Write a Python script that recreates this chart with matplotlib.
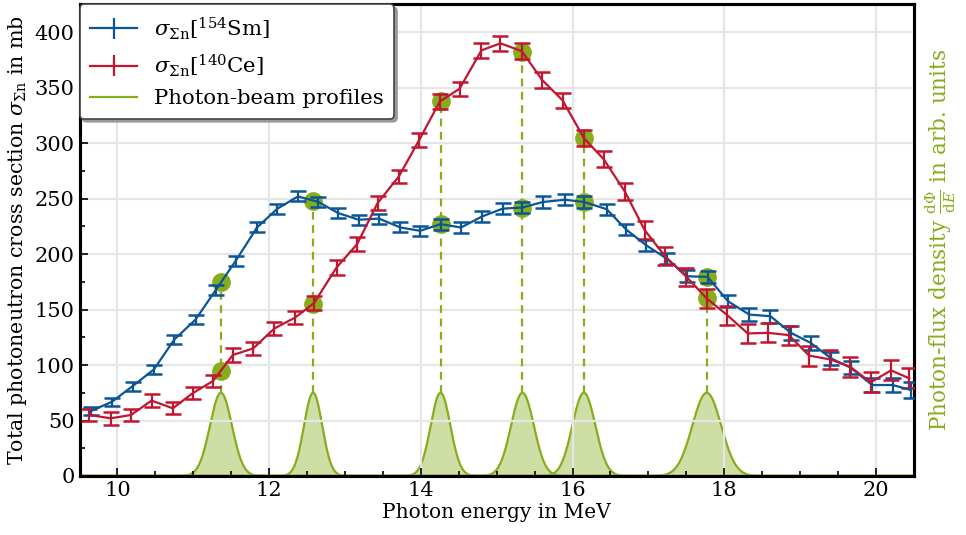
import numpy as np
import matplotlib
matplotlib.use("Agg")
import matplotlib.pyplot as plt
from matplotlib.lines import Line2D

plt.rcParams["font.family"] = ["DejaVu Serif"]
plt.rcParams["mathtext.fontset"] = "dejavuserif"

# --- data -------------------------------------------------------------
energy_sm = [9.65, 9.93, 10.20, 10.48, 10.75, 11.03, 11.30, 11.56, 11.84, 12.11,
             12.38, 12.65, 12.91, 13.18, 13.45, 13.73, 13.99, 14.26, 14.53, 14.81,
             15.08, 15.34, 15.61, 15.90, 16.15, 16.45, 16.71, 16.97, 17.24, 17.51,
             17.78, 18.05, 18.33, 18.61, 18.88, 19.14, 19.41, 19.67, 19.95, 20.22,
             20.46]
xs_sm = [58.5, 67, 81, 96, 123, 141, 168, 194, 224, 241,
         252, 247, 237, 231, 232, 224, 221, 227, 224, 234,
         241, 242, 247, 249, 247, 240.5, 222, 208, 196, 180,
         179.5, 157.5, 145.5, 144, 129, 120, 106, 97.5, 82, 82,
         77.5]
err_sm = [3.5, 3.5, 4, 4, 4, 4, 4.5, 4.5, 4.5, 4.5,
          4.5, 4.5, 4.5, 4.5, 4.5, 4.5, 4.5, 5, 5, 5,
          5, 5, 5, 5, 5, 5, 5, 5, 5, 5.5,
          5.5, 5.5, 5.5, 6, 6, 6, 6, 6, 6.5, 6.5,
          7]

energy_ce = [9.63, 9.91, 10.18, 10.45, 10.73, 10.99, 11.26, 11.52, 11.79, 12.07,
             12.34, 12.59, 12.89, 13.16, 13.43, 13.71, 13.98, 14.25, 14.51, 14.80,
             15.05, 15.33, 15.60, 15.87, 16.15, 16.41, 16.69, 16.95, 17.22, 17.50,
             17.77, 18.04, 18.31, 18.58, 18.85, 19.12, 19.40, 19.66, 19.93, 20.20,
             20.44]
xs_ce = [55, 52, 55, 68, 61, 74.5, 85.6, 109, 115, 133,
         142.7, 155.7, 188, 209, 246, 270, 303, 337.6, 349, 383.7,
         390, 383, 357, 338.5, 304.6, 285.6, 256.4, 221.8, 198, 179.7,
         160, 145, 128.5, 129, 127, 108.5, 105, 98.5, 84.4, 95.2,
         88]
err_ce = [5.5, 6, 5.5, 5.5, 5.5, 5.5, 5.5, 6, 6, 6,
          6, 6.5, 6.5, 6, 6, 6, 6.5, 6.5, 6.5, 7,
          7, 7, 7, 7, 7.5, 7.5, 7.5, 8, 8, 8,
          8.5, 8.5, 8.5, 8.5, 8.5, 9, 9, 9, 9, 9,
          9]

# photon-beam centroid energies (MeV) and Gaussian widths (MeV)
beam_energy = [11.365, 12.58, 14.26, 15.34, 16.15, 17.77]
beam_sigma = [0.145, 0.12, 0.13, 0.15, 0.152, 0.19]
beam_peak_mb = 75.0   # height of profile peaks on the cross-section scale

# --- style ------------------------------------------------------------
c_sm = "#0a5596"
c_ce = "#c2152f"
c_beam = "#86ad1c"

fig = plt.figure(figsize=(9.66, 5.35), dpi=100)
ax = fig.add_axes([0.0823, 0.1103, 0.8637, 0.8813])

xlim = (9.5, 20.5)
ylim = (0, 425)

# beam profiles on a twin axis (arbitrary units)
ax2 = ax.twinx()
scale = ylim[1] / beam_peak_mb
ax2.set_ylim(0, scale)
egrid = np.linspace(xlim[0], xlim[1], 2000)
for e0, s in zip(beam_energy, beam_sigma):
    prof = np.exp(-0.5 * ((egrid - e0) / s) ** 2)
    ax2.fill_between(egrid, 0, prof, color=c_beam, alpha=0.4, lw=0, zorder=1)
    ax2.plot(egrid, prof, color=c_beam, lw=1.6, zorder=2)
ax2.set_yticks([])
ax2.set_ylabel(r"Photon-flux density $\frac{\mathrm{d}\Phi}{\mathrm{d}E}$ in arb. units",
               color=c_beam, fontsize=15.5, labelpad=7)

# cross sections
ax.set_zorder(ax2.get_zorder() + 1)
ax.patch.set_visible(False)

sm_at_beam = np.interp(beam_energy, energy_sm, xs_sm)
ce_at_beam = np.interp(beam_energy, energy_ce, xs_ce)
for e0, a, b in zip(beam_energy, sm_at_beam, ce_at_beam):
    ax.plot([e0, e0], [beam_peak_mb, max(a, b)], ls=(0, (3.5, 2.5)),
            color=c_beam, lw=1.6, zorder=2)
ax.plot(beam_energy, sm_at_beam, "o", color=c_beam, ms=13.5, mec="none", zorder=3)
ax.plot(beam_energy, ce_at_beam, "o", color=c_beam, ms=13.5, mec="none", zorder=3)

eb_kw = dict(lw=1.6, elinewidth=1.6, capsize=5.5, capthick=1.8, zorder=4)
ax.errorbar(energy_sm, xs_sm, yerr=err_sm, color=c_sm, **eb_kw)
ax.errorbar(energy_ce, xs_ce, yerr=err_ce, color=c_ce, **eb_kw)

ax.set_xlim(*xlim)
ax.set_ylim(*ylim)
ax.set_xticks(np.arange(10, 21, 2))
ax.set_xticks(np.arange(9.5, 20.51, 0.5), minor=True)
ax.set_yticks(np.arange(0, 401, 50))
ax.set_yticks(np.arange(0, 426, 25), minor=True)
ax.tick_params(which="both", direction="in", labelsize=15, width=1.2)
ax.tick_params(which="major", length=6)
ax.tick_params(which="minor", length=3.5)
ax.grid(True, which="major", color="#e6e6e6", lw=1.6, zorder=0)
ax.set_axisbelow(True)

for a in (ax, ax2):
    for sp in a.spines.values():
        sp.set_linewidth(2.2)
        sp.set_color("black")

ax.set_xlabel("Photon energy in MeV", fontsize=14.5, labelpad=2)
ax.set_ylabel(r"Total photoneutron cross section $\sigma_{\Sigma\mathrm{n}}$ in mb",
              fontsize=14.8, labelpad=4)

# legend
h_sm = ax.errorbar([], [], yerr=[], color=c_sm, lw=1.6, capsize=5.5, capthick=1.8)
h_ce = ax.errorbar([], [], yerr=[], color=c_ce, lw=1.6, capsize=5.5, capthick=1.8)
h_beam = Line2D([], [], color=c_beam, lw=1.6)
leg = ax.legend([h_sm, h_ce, h_beam],
                [r"$\sigma_{\Sigma\mathrm{n}}[^{154}\mathrm{Sm}]$",
                 r"$\sigma_{\Sigma\mathrm{n}}[^{140}\mathrm{Ce}]$",
                 "Photon-beam profiles"],
                loc="upper left", fontsize=15.3, borderaxespad=0.0,
                fancybox=True, shadow={"color": "#9a9a9a", "alpha": 1.0},
                framealpha=1.0, handlelength=2.2, borderpad=0.5,
                labelspacing=0.5)
leg.get_frame().set_edgecolor("#444444")
leg.get_frame().set_linewidth(1.2)
leg.set_zorder(10)

fig.savefig("out.png", dpi=100)
